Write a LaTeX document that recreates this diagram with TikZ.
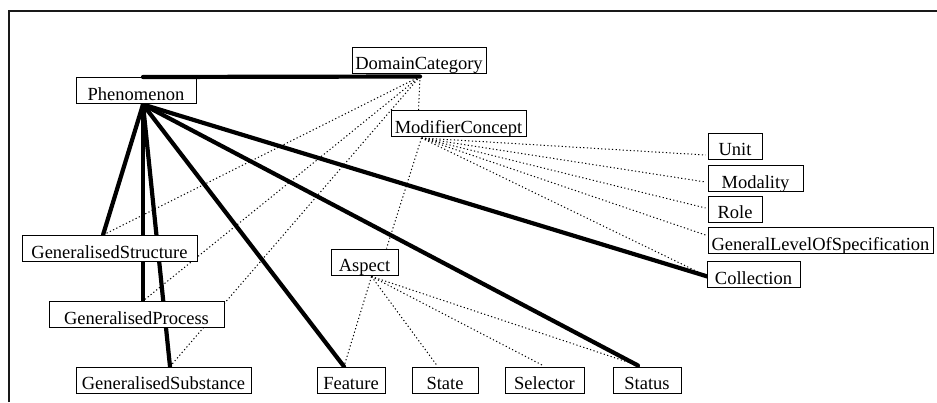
\documentclass[tikz,border=0pt]{standalone}
\usepackage{fontspec}
\setmainfont{Liberation Serif}
\usetikzlibrary{calc,backgrounds}
\begin{document}
\begin{tikzpicture}[x=1pt,y=-1pt,
  box/.style={draw, line width=1pt, fill=white, inner sep=0pt,
    text height=22.5pt, text depth=3.5pt, font=\fontsize{18.5}{20}\selectfont},
  isa/.style={line width=4.2pt, line cap=round},
  rel/.style={line width=1pt, dash pattern=on 1.2pt off 2.4pt},
  frameline/.style={line width=2pt, black!90}]
\useasboundingbox (0,0) rectangle (937,402);
\draw[frameline] (9,402) -- (9,10.5) -- (937,10.5);

% nodes
\node[box, minimum width=120pt] (Phen) at (136,90.5) {Phenomenon};
\node[box, minimum width=134pt] (DC) at (419,60) {DomainCategory};
\node[box, minimum width=135pt] (MC) at (458.5,123.5) {ModifierConcept};
\node[box, minimum width=54pt] (Unit) at (735,146) {Unit};
\node[box, minimum width=95pt] (Modality) at (755.5,178.5) {Modality};
\node[box, minimum width=54pt] (Role) at (735,209) {Role};
\node[box, minimum width=225pt] (GLoS) at (820.5,240.5) {GeneralLevelOfSpecification};
\node[box, minimum width=93pt] (Coll) at (753.5,274.5) {Collection};
\node[box, minimum width=175pt] (GS) at (109.5,248.5) {GeneralisedStructure};
\node[box, minimum width=175pt] (GP) at (136.5,314.5) {GeneralisedProcess};
\node[box, minimum width=175pt] (GSub) at (163.5,380) {GeneralisedSubstance};
\node[box, minimum width=68pt] (Feature) at (351,380) {Feature};
\node[box, minimum width=66pt] (State) at (445,380) {State};
\node[box, minimum width=79pt] (Selector) at (544.5,380) {Selector};
\node[box, minimum width=68pt] (Status) at (647,380) {Status};
\node[box, minimum width=67pt] (Aspect) at (364.5,262) {Aspect};

% attachment points
\coordinate (pB) at ($(Phen.south)+(7,0.5)$);
\coordinate (pT) at ($(Phen.north)+(7,0)$);
\coordinate (dcB) at ($(DC.south)+(1,3)$);
\coordinate (mcT) at ($(MC.north)+(-40,0)$);
\coordinate (mcB) at ($(MC.south)+(-37,1)$);
\coordinate (aT) at ($(Aspect.north)+(22,0)$);
\coordinate (aB) at ($(Aspect.south)+(7,1)$);
\coordinate (gsT) at ($(GS.north)+(-6.5,0)$);
\coordinate (gpT) at ($(GP.north)+(6.5,0)$);
\coordinate (gsubT) at ($(GSub.north)+(6.5,0)$);
\coordinate (fT) at ($(Feature.north)+(-7,0)$);
\coordinate (stT) at ($(State.north)+(-8,-1)$);
\coordinate (selT) at ($(Selector.north)+(-1.5,-1)$);
\coordinate (statT) at ($(Status.north)+(-9,-1)$);
\coordinate (unitL) at ($(Unit.west)+(-2,9)$);
\coordinate (modL) at ($(Modality.west)+(-2,3.5)$);
\coordinate (roleL) at ($(Role.west)+(-2,-1)$);
\coordinate (glosL) at ($(GLoS.west)+(-2,-5.5)$);
\coordinate (colL) at ($(Coll.west)+(1,2)$);

\begin{scope}[on background layer]
  % is-a (thick)
  \draw[isa] (pB) -- (gsT);
  \draw[isa] (pB) -- (gpT);
  \draw[isa] (pB) -- (gsubT);
  \draw[isa] (pB) -- (fT);
  \draw[isa] (pB) -- (statT);
  \draw[isa] (pB) -- (colL);
  % dotted relations
  \draw[rel] (dcB) -- (mcT);
  \draw[rel] (dcB) -- (gsT);
  \draw[rel] (dcB) -- (gpT);
  \draw[rel] (dcB) -- (gsubT);
  \draw[rel] (mcB) -- (aT);
  \draw[rel] (mcB) -- (unitL);
  \draw[rel] (mcB) -- (modL);
  \draw[rel] (mcB) -- (roleL);
  \draw[rel] (mcB) -- (glosL);
  \draw[rel] (mcB) -- (colL);
  \draw[rel] (aB) -- (fT);
  \draw[rel] (aB) -- (stT);
  \draw[rel] (aB) -- (selT);
  \draw[rel] (aB) -- (statT);
\end{scope}
\draw[isa] (pT) -- (dcB);
\end{tikzpicture}
\end{document}
